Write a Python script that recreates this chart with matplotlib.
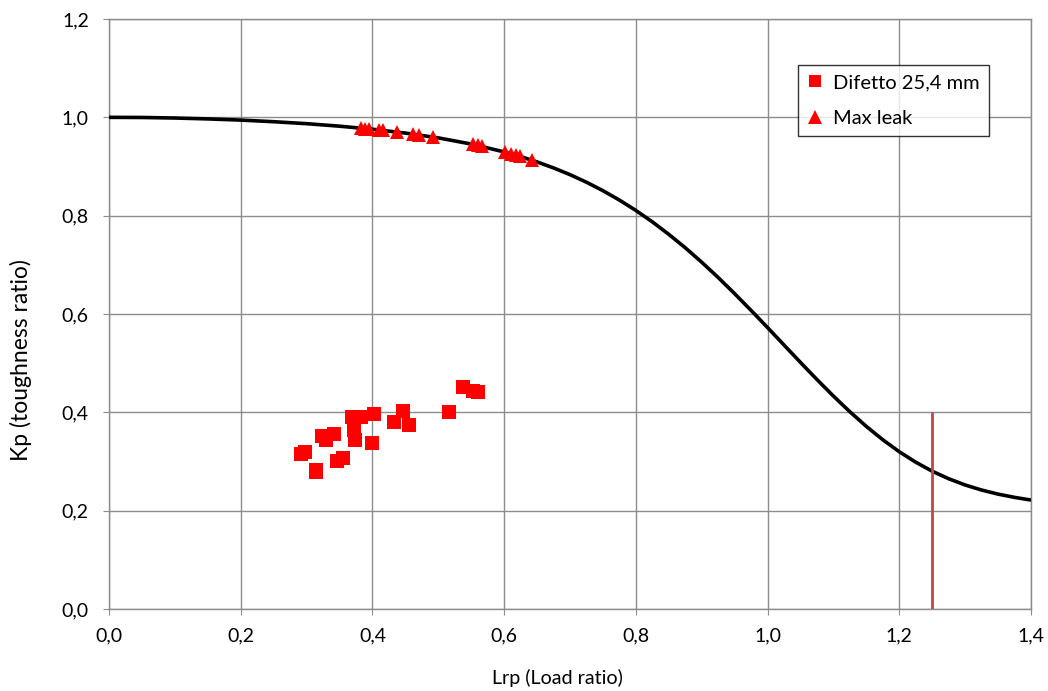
import matplotlib
matplotlib.use("Agg")
import matplotlib.pyplot as plt
from matplotlib.ticker import FuncFormatter, MultipleLocator

plt.rcParams['font.family'] = ['Lato', 'DejaVu Sans']

# FAD curve
curve_x = [0.0, 0.05, 0.1, 0.15, 0.2, 0.25, 0.3, 0.35, 0.4, 0.45, 0.5, 0.55, 0.6,
           0.625, 0.65, 0.675, 0.7, 0.725, 0.75, 0.775, 0.8, 0.825, 0.85, 0.875,
           0.9, 0.925, 0.95, 0.975, 1.0, 1.025, 1.05, 1.075, 1.1, 1.125, 1.15,
           1.175, 1.2, 1.225, 1.25, 1.275, 1.3, 1.325, 1.35, 1.375, 1.4]
curve_y = [1.0, 0.9997, 0.9986, 0.9968, 0.9944, 0.9911, 0.9871, 0.9820, 0.9758,
           0.9680, 0.9582, 0.9457, 0.9297, 0.9202, 0.9093, 0.8971, 0.8834, 0.8680,
           0.8508, 0.8317, 0.8106, 0.7874, 0.7620, 0.7347, 0.7053, 0.6742, 0.6413,
           0.6072, 0.5723, 0.5368, 0.5014, 0.4666, 0.4330, 0.4011, 0.3713, 0.3441,
           0.3198, 0.2985, 0.2802, 0.2649, 0.2522, 0.2419, 0.2336, 0.2270, 0.2215]

# Difetto 25,4 mm
sq_x = [0.292, 0.298, 0.314, 0.315, 0.323, 0.329, 0.342, 0.346, 0.355, 0.369, 0.372,
        0.374, 0.383, 0.399, 0.402, 0.433, 0.446, 0.456, 0.516, 0.537, 0.553, 0.560]
sq_y = [0.315, 0.319, 0.279, 0.283, 0.352, 0.344, 0.356, 0.301, 0.307, 0.390, 0.364,
        0.344, 0.390, 0.338, 0.397, 0.380, 0.403, 0.374, 0.401, 0.452, 0.444, 0.441]

# Max leak
tr_x = [0.382, 0.389, 0.395, 0.410, 0.416, 0.437, 0.461, 0.470, 0.492, 0.552, 0.560,
        0.566, 0.602, 0.610, 0.618, 0.624, 0.642]
tr_y = [0.978, 0.977, 0.9765, 0.974, 0.9735, 0.970, 0.966, 0.964, 0.960, 0.945, 0.943,
        0.941, 0.929, 0.926, 0.923, 0.921, 0.913]

# Cut-off line
cut_x = [1.25, 1.25]
cut_y = [0.0, 0.4]

fig = plt.figure(figsize=(10.48, 6.91), dpi=100)
ax = fig.add_axes([0.104, 0.1187, 0.8798, 0.8538])

ax.plot(curve_x, curve_y, color='black', lw=2.6, zorder=3, solid_capstyle='butt',
        solid_joinstyle='round')
ax.plot(cut_x, cut_y, color='#B94A48', lw=2.0, zorder=3, solid_capstyle='butt')
ax.plot(sq_x, sq_y, 's', color='#FF0000', ms=9.5, mec='#FF0000', mew=0,
        label='Difetto 25,4 mm', zorder=4)
ax.plot(tr_x, tr_y, '^', color='#FF0000', ms=10, mec='#FF0000', mew=0,
        label='Max leak', zorder=4)

ax.set_xlim(0, 1.4)
ax.set_ylim(0, 1.2)
ax.xaxis.set_major_locator(MultipleLocator(0.2))
ax.yaxis.set_major_locator(MultipleLocator(0.2))
fmt = FuncFormatter(lambda v, p: f"{v:.1f}".replace('.', ','))
ax.xaxis.set_major_formatter(fmt)
ax.yaxis.set_major_formatter(fmt)
ax.grid(True, color='#8c8c8c', lw=1)
ax.set_axisbelow(True)
for s in ax.spines.values():
    s.set_color('#8c8c8c')
    s.set_linewidth(1)
ax.tick_params(axis='both', colors='#8c8c8c', labelcolor='black', labelsize=14,
               length=4.5, direction='out')
ax.tick_params(axis='x', pad=9)
ax.tick_params(axis='y', pad=10)

xl = ax.set_xlabel('Lrp (Load ratio)', fontsize=14.2)
xl.set_va('center')
ax.xaxis.set_label_coords(0.486, -0.117)
yl = ax.set_ylabel('Kp (toughness ratio)', fontsize=16.5)
yl.set_va('center')
ax.yaxis.set_label_coords(-0.0954, 0.422)

leg = ax.legend(loc='upper right', bbox_to_anchor=(0.9544, 0.922), fontsize=14.5,
                frameon=True, fancybox=False, edgecolor='black', handlelength=0.8,
                handletextpad=0.5, borderpad=0.45, labelspacing=0.95,
                markerscale=0.95, borderaxespad=0)
leg.get_frame().set_linewidth(1)

fig.savefig('out.png', dpi=100)
